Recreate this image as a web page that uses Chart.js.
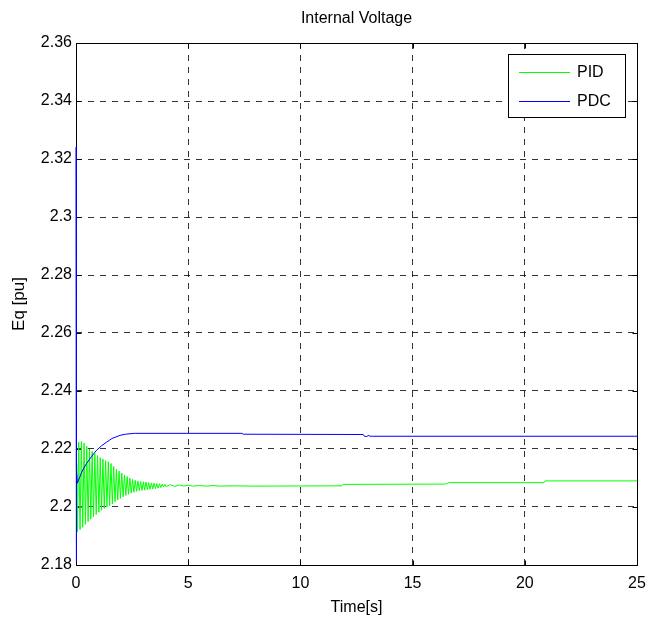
<!DOCTYPE html>
<html>
<head>
<meta charset="utf-8">
<title>Internal Voltage</title>
<script src="https://cdn.jsdelivr.net/npm/chart.js@4"></script>
<style>
  body { margin: 0; background: #fff; }
</style>
</head>
<body>
<canvas id="eq-chart" width="651" height="626"></canvas>
<script>
// Data //
var chartTitle = "Internal Voltage";
var xTitle = "Time[s]";
var yTitle = "Eq [pu]";
var seriesNames = ["PID", "PDC"];
var seriesColors = ["#00ff00", "#0000ff"];

// PID: oscillation after the disturbance, then slow steps
var pidT = [0, 0.03,
  0.06, 0.12, 0.18, 0.24, 0.30, 0.36, 0.42, 0.48, 0.54, 0.60,
  0.66, 0.72, 0.78, 0.84, 0.90, 0.96, 1.02, 1.08, 1.14, 1.20,
  1.26, 1.32, 1.38, 1.44, 1.50, 1.56, 1.62, 1.68, 1.74, 1.80,
  1.86, 1.92, 1.98, 2.04, 2.10, 2.16, 2.22, 2.28, 2.34, 2.40,
  2.46, 2.52, 2.58, 2.64, 2.70, 2.76, 2.82, 2.88, 2.94, 3.00,
  3.06, 3.12, 3.18, 3.24, 3.30, 3.36, 3.42, 3.48, 3.54, 3.60,
  3.66, 3.72, 3.78, 3.84, 3.90, 3.96, 4.02,
  4.2, 4.4, 4.6, 4.8, 5.0, 5.2, 5.5, 5.8, 6.1, 6.4, 7.0, 7.9,
  11.85, 11.9, 16.45, 16.5, 16.55, 16.6, 20.85, 20.9, 25];
var pidV = [2.2070, 2.2150,
  2.1915, 2.2224, 2.1922, 2.2226, 2.1930, 2.2220, 2.1940, 2.2210, 2.1950, 2.2200,
  2.1958, 2.2192, 2.1966, 2.2184, 2.1974, 2.2177, 2.1982, 2.2170, 2.1989, 2.2165,
  2.1995, 2.2160, 2.2000, 2.2156, 2.2005, 2.2150, 2.2010, 2.2140, 2.2018, 2.2130,
  2.2024, 2.2124, 2.2030, 2.2117, 2.2035, 2.2110, 2.2040, 2.2105, 2.2044, 2.2100,
  2.2048, 2.2095, 2.2051, 2.2092, 2.2054, 2.2090, 2.2056, 2.2088, 2.2057, 2.2087,
  2.2058, 2.2086, 2.2060, 2.2084, 2.2061, 2.2083, 2.2062, 2.2082, 2.2063, 2.2081,
  2.2065, 2.2080, 2.2067, 2.2079, 2.2069, 2.2078, 2.2070,
  2.2077, 2.2071, 2.2076, 2.2072, 2.2075, 2.2072, 2.2074, 2.2072, 2.2074, 2.2072, 2.2073, 2.2072,
  2.2073, 2.2078, 2.2079, 2.2082, 2.2080, 2.2084, 2.2084, 2.2090, 2.2090];

// PDC: spike at t=0, smooth rise, flat
var pdcT = [0, 0.01, 0.03, 0.06, 0.15, 0.3, 0.48, 0.7, 0.92, 1.15, 1.37, 1.6,
  1.96, 2.2, 2.6, 7.4, 7.45, 12.8, 12.85, 12.95, 13.05, 13.1, 13.2, 25];
var pdcV = [2.3241, 2.1810, 2.2130, 2.2082, 2.2100, 2.2128, 2.2151, 2.2175, 2.2196, 2.2212, 2.2224, 2.2236,
  2.2247, 2.2251, 2.2254, 2.2254, 2.2251, 2.2250, 2.2244, 2.2243, 2.2247, 2.2244, 2.2244, 2.2244];

var xMin = 0, xMax = 25, xStep = 5;
var yMin = 2.18, yMax = 2.36, yStep = 0.02;

function toPoints(ts, vs) {
  return ts.map(function(t, i) { return { x: t, y: vs[i] }; });
}

Chart.defaults.font.family = "'Liberation Sans', Arial, sans-serif";
Chart.defaults.color = "#000";

// box, inside ticks, title and legend like the matlab figure
var matlabFrame = {
  id: "matlabFrame",
  beforeDatasetsDraw: function(chart) {
    var ctx = chart.ctx, a = chart.chartArea;
    var xs = chart.scales.x, ys = chart.scales.y;
    var L = Math.round(a.left) + 0.5, R = Math.round(a.right) + 0.5;
    var T = Math.round(a.top) + 0.5, B = Math.round(a.bottom) + 0.5;
    ctx.save();
    ctx.strokeStyle = "#000";
    ctx.lineWidth = 1;
    ctx.strokeRect(L, T, R - L, B - T);
    ctx.beginPath();
    xs.ticks.forEach(function(t) {
      var px = Math.round(xs.getPixelForValue(t.value)) + 0.5;
      ctx.moveTo(px, B); ctx.lineTo(px, B - 5);
      ctx.moveTo(px, T); ctx.lineTo(px, T + 5);
    });
    ys.ticks.forEach(function(t) {
      var py = Math.round(ys.getPixelForValue(t.value)) + 0.5;
      ctx.moveTo(L, py); ctx.lineTo(L + 5, py);
      ctx.moveTo(R, py); ctx.lineTo(R - 5, py);
    });
    ctx.stroke();
    ctx.restore();
  },
  afterDraw: function(chart) {
    var ctx = chart.ctx, a = chart.chartArea;
    ctx.save();
    ctx.fillStyle = "#000";
    ctx.font = "16px 'Liberation Sans', Arial, sans-serif";
    ctx.textAlign = "center";
    ctx.textBaseline = "middle";
    ctx.fillText(chartTitle, (a.left + a.right) / 2, 19);

    // legend box, top right inside the axes
    var bx = 508.5, by = 54.5, bw = 117, bh = 63;
    ctx.fillStyle = "#fff";
    ctx.fillRect(bx, by, bw, bh);
    ctx.strokeStyle = "#000";
    ctx.lineWidth = 1;
    ctx.strokeRect(bx, by, bw, bh);
    ctx.textAlign = "left";
    var rowsY = [72, 101];
    seriesNames.forEach(function(name, i) {
      ctx.strokeStyle = seriesColors[i];
      ctx.beginPath();
      ctx.moveTo(519, rowsY[i] + 0.5);
      ctx.lineTo(570, rowsY[i] + 0.5);
      ctx.stroke();
      ctx.fillStyle = "#000";
      ctx.fillText(name, 577, rowsY[i] + 1);
    });
    ctx.restore();
  }
};

var ctx = document.getElementById("eq-chart").getContext("2d");
var chart = new Chart(ctx, {
  type: "line",
  data: {
    datasets: [{
      label: seriesNames[0],
      data: toPoints(pidT, pidV),
      borderColor: seriesColors[0],
      borderWidth: 1,
      pointRadius: 0,
      tension: 0,
      clip: false,
      order: 1
    }, {
      label: seriesNames[1],
      data: toPoints(pdcT, pdcV),
      borderColor: seriesColors[1],
      borderWidth: 1,
      pointRadius: 0,
      tension: 0,
      clip: false,
      order: 0
    }]
  },
  options: {
    responsive: false,
    animation: false,
    devicePixelRatio: 1,
    layout: { padding: { left: 0, right: 14, top: 43, bottom: 0 } },
    plugins: {
      legend: { display: false },
      tooltip: { enabled: false },
      title: { display: false }
    },
    scales: {
      x: {
        type: "linear",
        min: xMin,
        max: xMax,
        ticks: { stepSize: xStep, padding: 9, font: { size: 16 } },
        grid: { color: "rgba(0,0,0,0.8)", lineWidth: 1, drawTicks: false },
        border: { display: false, dash: [6, 6] },
        title: { display: true, text: xTitle, font: { size: 16 }, padding: { top: 0, bottom: 9 } },
        afterFit: function(s) {
          s.height = 61;
          s.paddingLeft = 0;
          s.paddingRight = 0;
        }
      },
      y: {
        type: "linear",
        min: yMin,
        max: yMax,
        ticks: {
          stepSize: yStep,
          padding: 4,
          font: { size: 16 },
          callback: function(v) { return String(+v.toFixed(2)); }
        },
        grid: { color: "rgba(0,0,0,0.8)", lineWidth: 1, drawTicks: false },
        border: { display: false, dash: [6, 6] },
        title: { display: true, text: yTitle, font: { size: 17 }, padding: { top: 9, bottom: 0 } },
        afterFit: function(s) { s.width = 76; }
      }
    }
  },
  plugins: [matlabFrame]
});
</script>
</body>
</html>
